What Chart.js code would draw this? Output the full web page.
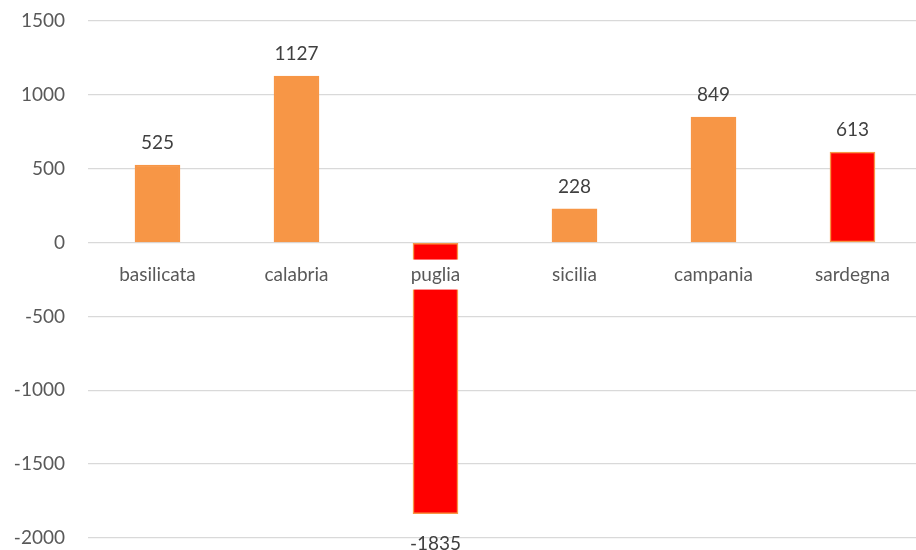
<!DOCTYPE html>
<html lang="it">
  <head>
    <meta charset="utf-8" />
    <style>
      * { margin: 0; padding: 0; }
      body { background: #fff; overflow: hidden; }
      .chartBox { width: 916px; height: 550px; overflow: hidden; }
    </style>
  </head>
  <body>
    <div class="chartBox"><canvas id="myChart"></canvas></div>
    <script src="https://cdn.jsdelivr.net/npm/chart.js/dist/chart.umd.min.js"></script>
    <script>
      // setup
      const regions = ["basilicata", "calabria", "puglia", "sicilia", "campania", "sardegna"];
      const values = [525, 1127, -1835, 228, 849, 613];
      const fillColors = ["#F79646", "#F79646", "#FF0000", "#F79646", "#F79646", "#FF0000"];
      const yTicks = [-2000, -1500, -1000, -500, 0, 500, 1000, 1500];

      const FONT = "Lato, 'Open Sans', sans-serif";

      // y tick labels, category names on the zero line (white box behind) and value labels
      const labelsPlugin = {
        id: "labelsPlugin",
        afterDatasetsDraw(chart) {
          const ctx = chart.ctx;
          const x = chart.scales.x;
          const y = chart.scales.y;
          const meta = chart.getDatasetMeta(0);
          ctx.save();
          ctx.font = "19px " + FONT;
          ctx.textBaseline = "middle";

          ctx.textAlign = "right";
          ctx.fillStyle = "#595959";
          yTicks.forEach((t) => {
            ctx.fillText(String(t), 65, y.getPixelForValue(t));
          });

          ctx.textAlign = "center";
          const y0 = y.getPixelForValue(0);
          regions.forEach((r, i) => {
            const cx = x.getPixelForValue(i);
            const w = ctx.measureText(r).width;
            ctx.fillStyle = "#fff";
            ctx.fillRect(cx - w / 2 - 3, y0 + 17, w + 6, 30);
            ctx.fillStyle = "#595959";
            ctx.fillText(r, cx, y0 + 32);
          });

          ctx.fillStyle = "#404040";
          meta.data.forEach((bar, i) => {
            const v = values[i];
            const ty = v >= 0 ? bar.y - 22 : bar.y + 30;
            ctx.fillText(String(v), bar.x, ty);
          });
          ctx.restore();
        },
      };

      const data = {
        labels: regions,
        datasets: [
          {
            data: values,
            backgroundColor: fillColors,
            borderColor: "#F79646",
            borderWidth: 1.5,
            borderSkipped: false,
            barThickness: 45,
          },
        ],
      };

      // config
      const config = {
        type: "bar",
        data,
        plugins: [labelsPlugin],
        options: {
          responsive: false,
          animation: false,
          layout: { padding: { top: 21, bottom: 12, right: 0, left: 0 } },
          plugins: { legend: { display: false }, tooltip: { enabled: false } },
          scales: {
            x: {
              display: false,
              grid: { display: false },
            },
            y: {
              min: -2000,
              max: 1500,
              afterBuildTicks(axis) {
                axis.ticks = yTicks.map((v) => ({ value: v }));
              },
              afterFit(axis) {
                axis.width = 88;
              },
              border: { display: false },
              grid: { color: "#d9d9d9", lineWidth: 1.3, drawTicks: false },
              ticks: { display: false },
            },
          },
        },
      };

      // canvas is a bit wider than the window: the plot runs past the right edge
      const canvas = document.getElementById("myChart");
      canvas.width = 922;
      canvas.height = 550;
      new Chart(canvas, config);
    </script>
  </body>
</html>
